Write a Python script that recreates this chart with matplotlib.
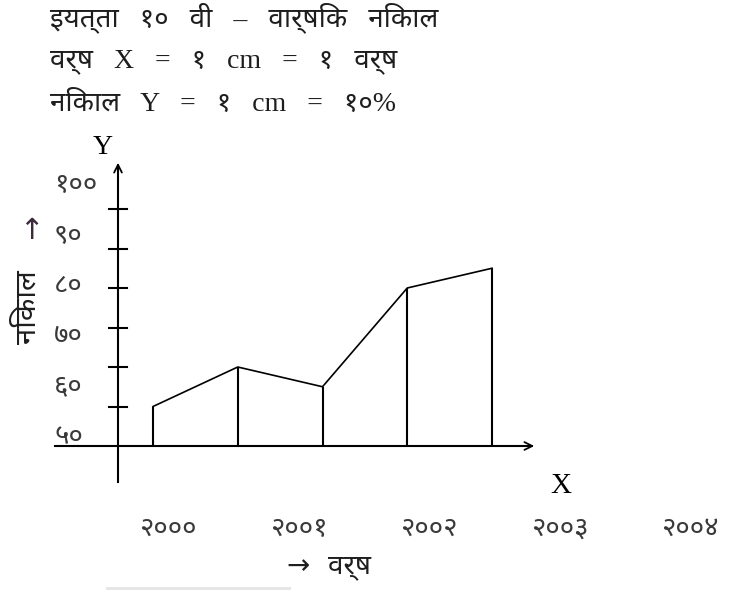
import matplotlib
matplotlib.use("Agg")
import matplotlib.pyplot as plt
from matplotlib import font_manager

# data
years = ['२०००', '२००१', '२००२', '२००३', '२००४']
year_pos = [0, 1, 2, 3, 4]
results = [60, 70, 65, 90, 95]
y_ticks = [60, 70, 80, 90, 100, 110]
y_tick_labels = ['५०', '६०', '७०', '८०', '९०', '१००']

title_lines = ['इयत्ता   १०   वी   –   वार्षिक   निकाल',
               'वर्ष   X   =   १   cm   =   १   वर्ष',
               'निकाल   Y   =   १   cm   =   १०%']

avail = {f.name for f in font_manager.fontManager.ttflist}
DEV = 'Noto Sans Devanagari' if 'Noto Sans Devanagari' in avail else 'Mukta'
SERIF = 'Liberation Serif'
mixed = [SERIF, DEV, 'DejaVu Sans']
INK = '#1e1e1e'
NUM_INK = '#3a3a3a'

W, H = 730, 590
fig = plt.figure(figsize=(W / 100, H / 100), dpi=100)
ax = fig.add_axes([0, 0, 1, 1])
ax.set_axis_off()

# pixel mapping of the hand drawn scale
X0, XS = 153, 84.75      # year 0 at x=153 px, one year = 84.75 px
Y0, YS = 446, 3.95       # 50 % at y=446 px, 1 % = 3.95 px
ax.set_xlim((0 - X0) / XS, (W - X0) / XS)
ax.set_ylim(50 - (H - Y0) / YS, 50 + Y0 / YS)


def px(x, y):
    return (x / W, 1 - y / H)


lw_axis = 1.5
# axes
ax.plot([(55 - X0) / XS, (530 - X0) / XS], [50, 50], color='black', lw=lw_axis)
ax.annotate('', xy=((537 - X0) / XS, 50), xytext=((520 - X0) / XS, 50),
            arrowprops=dict(arrowstyle='->', color='black', lw=1.3,
                            mutation_scale=14))
yx = (118 - X0) / XS
ax.plot([yx, yx], [50 - (482 - Y0) / YS, 50 + (Y0 - 168) / YS], color='black', lw=lw_axis)
ax.annotate('', xy=(yx, 50 + (Y0 - 160) / YS), xytext=(yx, 50 + (Y0 - 180) / YS),
            arrowprops=dict(arrowstyle='->', color='black', lw=1.3,
                            mutation_scale=14))
# tick marks on the y axis
for t in y_ticks:
    ax.plot([yx - 9 / XS, yx + 9 / XS], [t, t], color='black', lw=lw_axis)

# the data: vertical lines and the polygon joining their tops
ax.vlines(year_pos, 50, results, color='black', lw=1.5)
ax.plot(year_pos, results, color='black', lw=1.2)

# header text
for i, line in enumerate(title_lines):
    fig.text(*px(50, 18 + i * 43), line, family=mixed, fontsize=20,
             color=INK, va='center', ha='left')

# axis names
fig.text(*px(103, 148), 'Y', family=SERIF, fontsize=20, ha='center', va='center')
fig.text(*px(561, 486), 'X', family=SERIF, fontsize=21, ha='center', va='center')

# y tick labels (hand placed, 50 px apart)
for k, lab in enumerate(y_tick_labels):
    fig.text(*px(54, 437 - k * 50.4), lab, family=DEV, fontsize=20,
             color=NUM_INK, ha='left', va='center')

# year labels
for k, lab in enumerate(years):
    fig.text(*px(168 + k * 130.5, 529), lab, family=DEV, fontsize=20,
             color=NUM_INK, ha='center', va='center')

fig.text(*px(31, 231), '↑', family='DejaVu Sans', fontsize=21, color='#3a2a3a',
         ha='center', va='center')
fig.text(*px(28, 307), 'निकाल', family=DEV, fontsize=21, rotation=90,
         color=INK, ha='center', va='center')
fig.text(*px(329, 566), '→  वर्ष', family=['DejaVu Sans', DEV], fontsize=20,
         color=INK, ha='center', va='center')

# faint scan strip along the bottom edge
fig.add_artist(plt.Rectangle(px(106, 590), (291 - 106) / W, 3 / H,
                             transform=fig.transFigure, color='#e6e6e6', lw=0))

fig.savefig('out.png', dpi=100, facecolor='white')
